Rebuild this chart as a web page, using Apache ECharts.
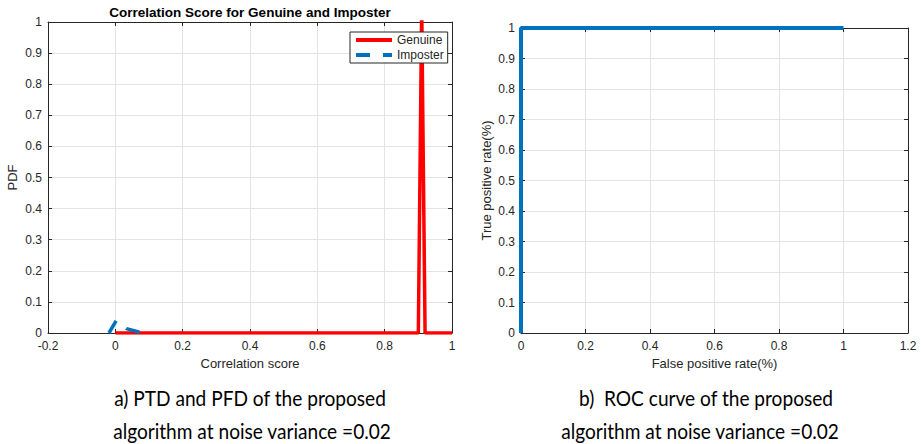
<!DOCTYPE html>
<html><head><meta charset="utf-8">
<script src="https://cdn.jsdelivr.net/npm/echarts@6/dist/echarts.min.js"></script>
<style>html,body{margin:0;padding:0;background:#fff}#c{width:921px;height:444px}</style>
</head><body><div id="c"></div>
<script>
// ---- data ----
const genuineX = [0, 0.9, 0.91, 0.92, 1];
const genuineY = [0, 0, 1.05, 0, 0];
const imposterX = [-0.019, 0.003, 0.033, 0.073];
const imposterY = [0, 0.04, 0.014, 0.002];
const rocFPR = [0, 0, 1];
const rocTPR = [0, 1, 1];
const leftTitle = 'Correlation Score for Genuine and Imposter';
const captionA = ['a) PTD and PFD of the proposed', 'algorithm at noise variance =0.02'];
const captionB = ['b)  ROC curve of the proposed', 'algorithm at noise variance =0.02'];

const pair = (xs, ys) => xs.map((x, i) => [x, ys[i]]);
const FONT = 'Liberation Sans, Arial, sans-serif';
const CAPFONT = '21px Lato, "Open Sans", sans-serif';
const AX = '#262626';
const GRID = '#e4e4e4';

function fmt(v){ return (Math.round(v*10)/10).toString(); }

function mainX(gi, min, max, name){
  return { gridIndex: gi, type: 'value', min, max, interval: 0.2, position: 'bottom',
    name, nameLocation: 'middle', nameGap: 23,
    nameTextStyle: { color: AX, fontFamily: FONT, fontSize: 13 },
    axisLine: { show: true, onZero: false, lineStyle: { color: AX, width: 1 } },
    axisTick: { show: true, inside: true, length: 4, lineStyle: { color: AX } },
    axisLabel: { color: AX, fontFamily: FONT, fontSize: 12, margin: 7, formatter: fmt },
    splitLine: { show: true, lineStyle: { color: GRID, width: 1 } } };
}
function sideX(gi, min, max){
  return { gridIndex: gi, type: 'value', min, max, interval: 0.2, position: 'top',
    axisLine: { show: true, onZero: false, lineStyle: { color: AX, width: 1 } },
    axisTick: { show: true, inside: true, length: 4, lineStyle: { color: AX } },
    axisLabel: { show: false }, splitLine: { show: false } };
}
function mainY(gi, name, gap){
  return { gridIndex: gi, type: 'value', min: 0, max: 1, interval: 0.1, position: 'left',
    name, nameLocation: 'middle', nameGap: gap,
    nameTextStyle: { color: AX, fontFamily: FONT, fontSize: 13 },
    axisLine: { show: true, onZero: false, lineStyle: { color: AX, width: 1 } },
    axisTick: { show: true, inside: true, length: 4, lineStyle: { color: AX } },
    axisLabel: { color: AX, fontFamily: FONT, fontSize: 12, margin: 6, formatter: fmt },
    splitLine: { show: true, lineStyle: { color: GRID, width: 1 } } };
}
function sideY(gi){
  return { gridIndex: gi, type: 'value', min: 0, max: 1, interval: 0.1, position: 'right',
    axisLine: { show: true, onZero: false, lineStyle: { color: AX, width: 1 } },
    axisTick: { show: true, inside: true, length: 4, lineStyle: { color: AX } },
    axisLabel: { show: false }, splitLine: { show: false } };
}
function cap(text, x, y){
  return { type: 'text', x, y, scaleX: 0.91, scaleY: 1,
    style: { text, textAlign: 'center', textVerticalAlign: 'middle', font: CAPFONT, fill: '#000' } };
}

const chart = echarts.init(document.getElementById('c'), null, { renderer: 'svg' });
chart.setOption({
  animation: false,
  backgroundColor: '#fff',
  grid: [
    { left: 48, top: 22, width: 404, height: 311, containLabel: false, outerBoundsMode: 'none' },
    { left: 521, top: 28, width: 387, height: 305, containLabel: false, outerBoundsMode: 'none' }
  ],
  xAxis: [ mainX(0, -0.2, 1, 'Correlation score'), sideX(0, -0.2, 1),
           mainX(1, 0, 1.2, 'False positive rate(%)'), sideX(1, 0, 1.2) ],
  yAxis: [ mainY(0, 'PDF', 29), sideY(0), mainY(1, 'True positive rate(%)', 28), sideY(1) ],
  legend: {
    left: 350, top: 32, orient: 'vertical', padding: [2, 4, 2, 4], itemGap: 3,
    itemWidth: 36, itemHeight: 14,
    backgroundColor: '#fff', borderColor: AX, borderWidth: 1, borderRadius: 0,
    itemStyle: { color: 'rgba(0,0,0,0)', borderWidth: 0, opacity: 0 },
    lineStyle: { width: 4 },
    textStyle: { color: AX, fontFamily: FONT, fontSize: 12 },
    data: ['Genuine', 'Imposter']
  },
  series: [
    { name: 'Genuine', type: 'line', xAxisIndex: 0, yAxisIndex: 0, data: pair(genuineX, genuineY),
      symbol: 'none', showSymbol: false, clip: true, lineStyle: { color: '#ff0000', width: 3.5 }, itemStyle: { color: '#ff0000' }, z: 3 },
    { name: 'Imposter', type: 'line', xAxisIndex: 0, yAxisIndex: 0, data: pair(imposterX, imposterY),
      symbol: 'none', showSymbol: false, clip: true, lineStyle: { color: '#0072bd', width: 3.5, type: [14, 13] }, itemStyle: { color: '#0072bd' }, z: 4 },
    { name: 'ROC', type: 'line', xAxisIndex: 2, yAxisIndex: 2, data: pair(rocFPR, rocTPR),
      symbol: 'none', showSymbol: false, clip: false, lineStyle: { color: '#0072bd', width: 4 }, itemStyle: { color: '#0072bd' }, z: 3 }
  ],
  graphic: [
    { type: 'text', x: 250, y: 12, style: { text: leftTitle, textAlign: 'center', textVerticalAlign: 'middle', font: 'bold 13.5px ' + FONT, fill: '#000' } },
    cap(captionA[0], 250, 398),
    cap(captionA[1], 252, 431),
    cap(captionB[0], 706, 398),
    cap(captionB[1], 700, 431)
  ]
});
</script></body></html>
